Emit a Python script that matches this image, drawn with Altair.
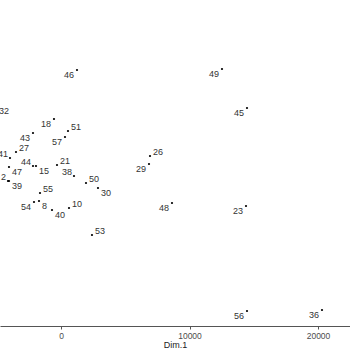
import altair as alt
import pandas as pd

labels = ["46", "49", "45", "32", "18", "51", "43", "57", "27", "41",
          "44", "15", "47", "21", "38", "2", "39", "50", "30", "26",
          "29", "55", "54", "8", "40", "10", "48", "23", "53", "56", "36"]
dim1 = [1245, 12529, 14475, -5058, -545, 545, -2179, 311, -3502, -3969,
        -2179, -1946, -4047, -311, 1012, -4125, -4047, 1946, 2879, 6926,
        6848, -1634, -2101, -1712, -700, 623, 8638, 14397, 2412, 14475, 20311]
dim2 = [10114, 10192, 7158, 7313, 6302, 5368, 5213, 4901, 3734, 3268,
        2645, 2645, 2567, 2723, 1867, 1478, 1478, 1323, 934, 3423,
        2801, 545, -156, -78, -778, -622, -233, -467, -2723, -8636, -8558]
# label placement relative to the point: l/r = left/right, a/b = above/below
side = ["lb", "lb", "lb", "rb", "lb", "ra", "lb", "lb", "ra", "la",
        "la", "rb", "rb", "ra", "la", "la", "rb", "ra", "rb", "ra",
        "lb", "ra", "lb", "rb", "rb", "ra", "lb", "lb", "ra", "lb", "lb"]

df = pd.DataFrame({"label": labels, "d1": dim1, "d2": dim2, "side": side})

xs = alt.Scale(domain=[-4747, 22490], nice=False, zero=False)
ys = alt.Scale(domain=[-9803, 15560], nice=False, zero=False)

base = alt.Chart(df).encode(
    x=alt.X("d1:Q", scale=xs, title="Dim.1",
            axis=alt.Axis(values=[0, 10000, 20000], grid=False, domainColor="#555555",
                          tickColor="#555555", tickSize=3, labelFontSize=8.5,
                          labelColor="#4d4d4d", labelFont="Liberation Sans",
                          titleFont="Liberation Sans", titleFontSize=9,
                          titleFontWeight="normal", titleColor="#222222",
                          labelPadding=2, titlePadding=1, format="d", labelFlush=False)),
    y=alt.Y("d2:Q", scale=ys, axis=None),
)

points = base.mark_circle(size=5, color="black", opacity=1)

offsets = {"lb": ("right", -3, 5), "la": ("right", -2, -4),
           "rb": ("left", 3, 5), "ra": ("left", 3, -4)}
texts = []
for key, (al, dx, dy) in offsets.items():
    texts.append(
        base.transform_filter(alt.datum.side == key)
        .mark_text(align=al, baseline="middle", dx=dx, dy=dy, fontSize=9,
                   font="Liberation Sans", color="#333333")
        .encode(text="label:N")
    )

chart = alt.layer(points, *texts).properties(
    width=350, height=326,
    padding={"left": 0, "top": 0, "right": 0, "bottom": 24},
    autosize=alt.AutoSizeParams(type="none"),
    background="white",
).configure_view(stroke=None)

chart.save("out.html", embed_options={"renderer": "svg", "actions": False})
